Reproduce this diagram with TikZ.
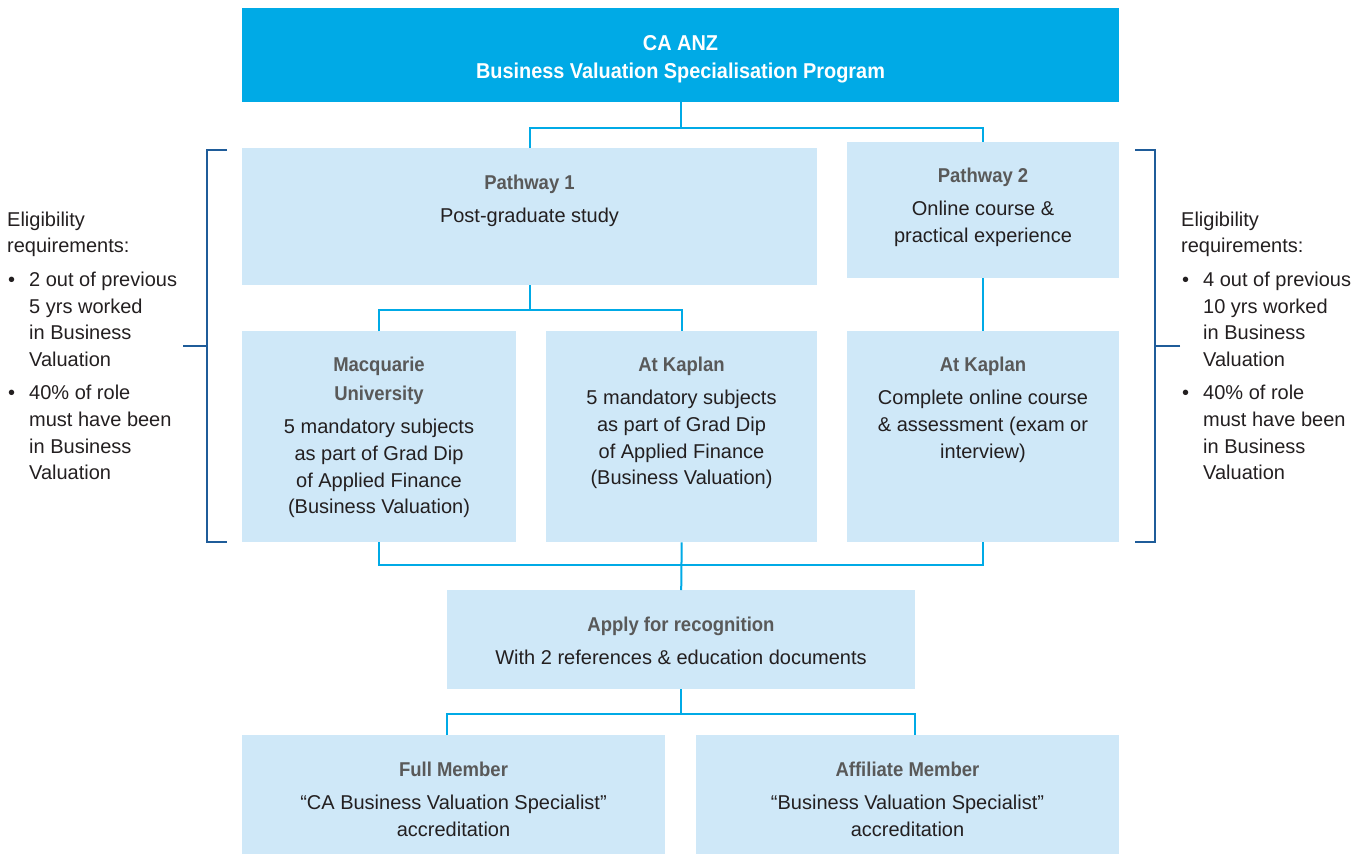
\documentclass[tikz,border=0pt]{standalone}
\usepackage{fontspec}
\setmainfont{Liberation Sans}[BoldFeatures={FakeStretch=0.925}]
\definecolor{topcol}{RGB}{0,170,230}
\definecolor{boxcol}{RGB}{207,232,248}
\definecolor{conncol}{RGB}{0,170,230}
\definecolor{brkcol}{RGB}{31,92,153}
\definecolor{hdcol}{RGB}{89,89,89}
\definecolor{bodycol}{RGB}{35,31,32}
\newcommand\hdline[1]{\leavevmode{\bfseries\color{hdcol}#1}\par\vspace{7pt}}
\newcommand\bulblock[1]{{\leftskip=22pt\noindent\llap{\makebox[22pt][l]{\hspace{1pt}\textbullet}}#1\par}}
\begin{document}
\begin{tikzpicture}[x=1pt,y=-1pt,
  every node/.style={font=\fontsize{20}{26.7}\selectfont, text=bodycol},
  box/.style={rectangle, fill=boxcol, inner sep=0pt, anchor=north west},
  topbox/.style={rectangle, fill=topcol, inner sep=0pt, anchor=north west},
  txt/.style={anchor=base, inner sep=0pt},
  side/.style={anchor=base west, inner sep=0pt},
  conn/.style={draw=conncol, line width=2pt},
  brk/.style={draw=brkcol, line width=2pt}]
\useasboundingbox (0,0) rectangle (1362,854);
% boxes
\node[topbox, minimum width=877pt, minimum height=94pt] (top) at (242,8) {};
\node[box, minimum width=575pt, minimum height=137pt] (p1) at (242,148) {};
\node[box, minimum width=272pt, minimum height=136pt] (p2) at (847,142) {};
\node[box, minimum width=274pt, minimum height=211pt] (mq) at (242,331) {};
\node[box, minimum width=271pt, minimum height=211pt] (k1) at (546,331) {};
\node[box, minimum width=272pt, minimum height=211pt] (k2) at (847,331) {};
\node[box, minimum width=468pt, minimum height=99pt] (ap) at (447,590) {};
\node[box, minimum width=423pt, minimum height=119pt] (fm) at (242,735) {};
\node[box, minimum width=423pt, minimum height=119pt] (af) at (696,735) {};
% texts
\node[txt, text=white] (toptxt) at (680.5,50) {\parbox[t]{860pt}{\centering\fontsize{21.5}{28}\selectfont\bfseries CA ANZ\\Business Valuation Specialisation Program}};
\node[txt] (p1txt) at (529.5,189) {\parbox[t]{560pt}{\centering\hdline{Pathway 1}Post-graduate study}};
\node[txt] (p2txt) at (983,182) {\parbox[t]{260pt}{\centering\hdline{Pathway 2}Online course \&\\practical experience}};
\node[txt] (mqtxt) at (379,371) {\parbox[t]{260pt}{\centering\hdline{Macquarie\\[2.3pt]University}5 mandatory subjects\\as part of Grad Dip\\of Applied Finance\\(Business Valuation)}};
\node[txt] (k1txt) at (681.5,371) {\parbox[t]{260pt}{\centering\hdline{At Kaplan}5 mandatory subjects\\as part of Grad Dip\\of Applied Finance\\(Business Valuation)}};
\node[txt] (k2txt) at (983,371) {\parbox[t]{260pt}{\centering\hdline{At Kaplan}Complete online course\\\& assessment (exam or\\interview)}};
\node[txt] (aptxt) at (681,631) {\parbox[t]{460pt}{\centering\hdline{Apply for recognition}With 2 references \& education documents}};
\node[txt] (fmtxt) at (453.5,776) {\parbox[t]{410pt}{\centering\hdline{Full Member}“CA Business Valuation Specialist”\\accreditation}};
\node[txt] (aftxt) at (907.5,776) {\parbox[t]{410pt}{\centering\hdline{Affiliate Member}“Business Valuation Specialist”\\accreditation}};
% side texts
\node[side] (eligL) at (7,226) {\parbox[t]{175pt}{\raggedright Eligibility\\requirements:\par\vspace{7pt}
\bulblock{2 out of previous\\5 yrs worked\\in Business\\Valuation}\vspace{6.5pt}
\bulblock{40\% of role\\must have been\\in Business\\Valuation}}};
\node[side] (eligR) at (1181,226) {\parbox[t]{178pt}{\raggedright Eligibility\\requirements:\par\vspace{7pt}
\bulblock{4 out of previous\\10 yrs worked\\in Business\\Valuation}\vspace{6.5pt}
\bulblock{40\% of role\\must have been\\in Business\\Valuation}}};
% connectors
\draw[conn] (top.south) -- ++(0,26) coordinate (j1);
\draw[conn] (p1.north) |- (j1) -| (p2.north);
\draw[conn] (p1.south) -- ++(0,25) coordinate (j2);
\draw[conn] (mq.north) |- (j2) -| (k1.north);
\draw[conn] (p2.south) -- (k2.north);
\draw[conn] (mq.south) -- ++(0,23) coordinate (j3) -| (k2.south);
\draw[conn] (k1.south) -- (ap.north);
\draw[conn] (ap.south) -- ++(0,25) coordinate (j4);
\draw[conn] (fm.north -| ap.south west) |- (j4) -| (af.north -| ap.south east);
% brackets
\coordinate (bl) at (183,346);
\coordinate (br) at (1180,346);
\draw[brk] (227,150) -- (207,150) -- (207,542) -- (227,542);
\draw[brk] (bl) -- (207,346);
\draw[brk] (1135,150) -- (1155,150) -- (1155,542) -- (1135,542);
\draw[brk] (br) -- (1155,346);
\end{tikzpicture}
\end{document}
